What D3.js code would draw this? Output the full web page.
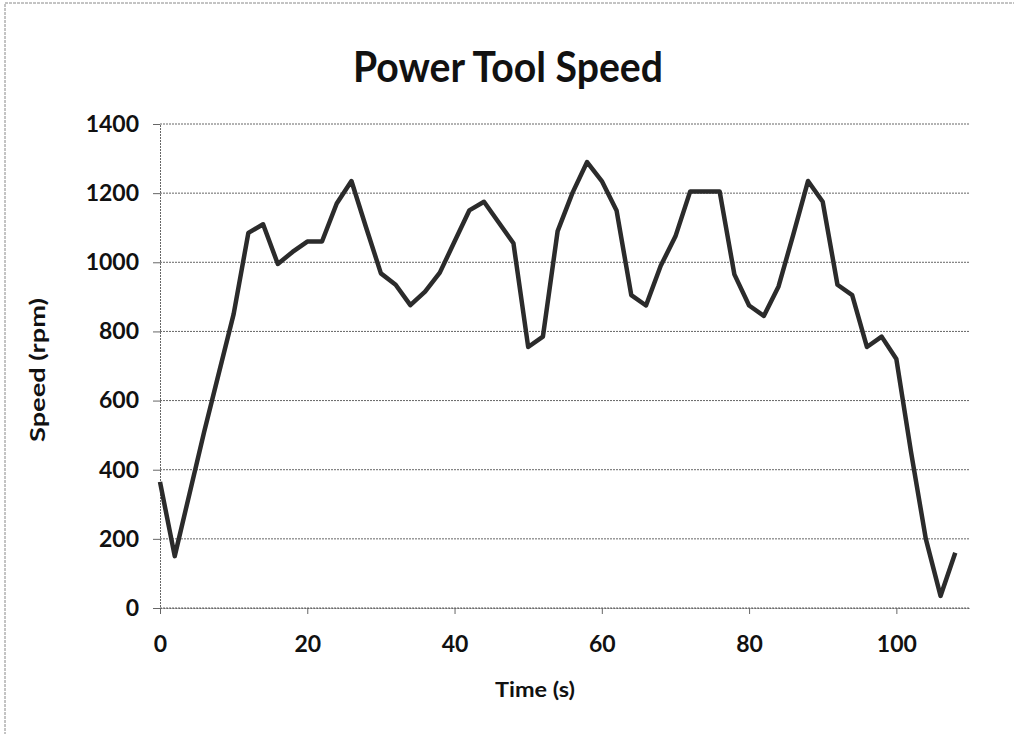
<!DOCTYPE html>
<html>
<head>
<meta charset="utf-8">
<script src="https://cdn.jsdelivr.net/npm/d3@7"></script>
<style>
  body { margin: 0; background: #fff; }
  text { font-family: Lato, "Open Sans", sans-serif; font-weight: bold; fill: #111; }
</style>
</head>
<body>
<svg id="chart" width="1014" height="734"></svg>
<script>
// time (s) and speed (rpm)
const times = [0, 2, 4, 6, 8, 10, 12, 14, 16, 18, 20, 22, 24, 26, 28, 30, 32, 34, 36, 38,
    40, 42, 44, 46, 48, 50, 52, 54, 56, 58, 60, 62, 64, 66, 68, 70, 72, 74, 76, 78,
    80, 82, 84, 86, 88, 90, 92, 94, 96, 98, 100, 102, 104, 106, 108];
const speeds = [365, 150, 330, 510, 680, 850, 1085, 1110, 995, 1030, 1060, 1060, 1170, 1235, 1100, 968, 935, 876, 915, 970,
    1060, 1150, 1175, 1115, 1055, 755, 785, 1090, 1200, 1290, 1235, 1150, 905, 875, 990, 1075, 1205, 1205, 1205, 965,
    875, 845, 930, 1080, 1235, 1175, 935, 905, 755, 785, 720, 450, 200, 35, 160];
const xTicks = [0, 20, 40, 60, 80, 100];
const yTicks = [0, 200, 400, 600, 800, 1000, 1200, 1400];

const svg = d3.select("#chart");

// scanned outer border of the chart area
svg.append("rect")
    .attr("x", 5).attr("y", 3)
    .attr("width", 1020).attr("height", 740)
    .attr("fill", "none")
    .attr("stroke", "#888")
    .attr("stroke-width", 1)
    .attr("stroke-dasharray", "3,1");

const x = d3.scaleLinear().domain([0, 110]).range([160, 970]);
const y = d3.scaleLinear().domain([0, 1400]).range([608, 124]);

// gridlines
svg.append("g")
    .selectAll("line")
    .data(yTicks)
    .join("line")
    .attr("x1", x(0)).attr("x2", x(110))
    .attr("y1", d => y(d)).attr("y2", d => y(d))
    .attr("stroke", "#666")
    .attr("stroke-width", 1)
    .attr("stroke-dasharray", "2,1");

// y axis
const yAxis = svg.append("g")
    .attr("transform", "translate(" + x(0) + ",0)")
    .call(d3.axisLeft(y).tickValues(yTicks).tickFormat(d3.format("d")).tickSize(7).tickPadding(14));
yAxis.select(".domain").attr("stroke", "#666").attr("stroke-dasharray", "2,1");
yAxis.selectAll(".tick line").attr("stroke", "#666");
yAxis.selectAll(".tick text")
    .style("font-size", "23px")
    .style("font-family", "Lato, sans-serif")
    .attr("fill", "#111");

// x axis
const xAxis = svg.append("g")
    .attr("transform", "translate(0," + y(0) + ")")
    .call(d3.axisBottom(x).tickValues(xTicks).tickFormat(d3.format("d")).tickSize(6).tickSizeOuter(0).tickPadding(22));
xAxis.select(".domain").attr("stroke", "#666").attr("stroke-dasharray", "2,1");
xAxis.selectAll(".tick line").attr("stroke", "#666");
xAxis.selectAll(".tick text")
    .style("font-size", "23px")
    .style("font-family", "Lato, sans-serif")
    .attr("fill", "#111");

// the speed line
const line = d3.line()
    .x((d, i) => x(times[i]))
    .y(d => y(d));

svg.append("path")
    .datum(speeds)
    .attr("d", line)
    .attr("fill", "none")
    .attr("stroke", "#2b2b2b")
    .attr("stroke-width", 4.5)
    .attr("stroke-linejoin", "round");

// titles
svg.append("text")
    .attr("x", 508).attr("y", 82)
    .attr("text-anchor", "middle")
    .attr("textLength", 310)
    .attr("lengthAdjust", "spacingAndGlyphs")
    .style("font-size", "42px")
    .text("Power Tool Speed");

svg.append("text")
    .attr("x", 535).attr("y", 697)
    .attr("text-anchor", "middle")
    .attr("textLength", 80)
    .attr("lengthAdjust", "spacingAndGlyphs")
    .style("font-size", "20px")
    .text("Time (s)");

svg.append("text")
    .attr("transform", "translate(45,370) rotate(-90)")
    .attr("text-anchor", "middle")
    .attr("textLength", 144)
    .attr("lengthAdjust", "spacingAndGlyphs")
    .style("font-size", "20px")
    .text("Speed (rpm)");
</script>
</body>
</html>
